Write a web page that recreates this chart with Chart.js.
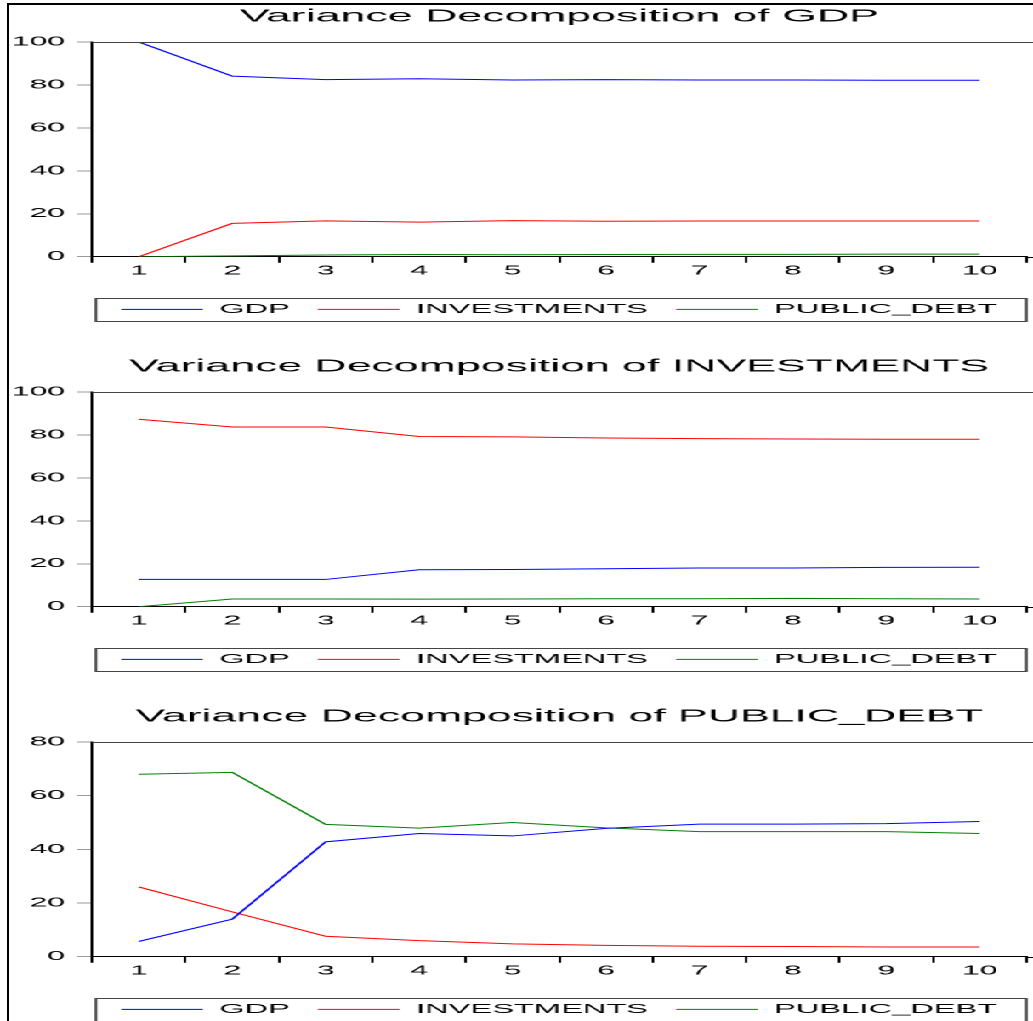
<!DOCTYPE html>
<html>
<head>
<meta charset="utf-8">
<script src="https://cdn.jsdelivr.net/npm/chart.js@4.4.0/dist/chart.umd.min.js"></script>
<style>
  html, body { margin: 0; padding: 0; background: #fff; overflow: hidden; }
  #frame { position: absolute; left: 7px; top: 3px; width: 1100px; height: 1100px;
           border-left: 2px solid #000; border-top: 2px solid #000; }
  /* the original EViews graph is a horizontally stretched bitmap */
  #stretch { position: absolute; left: 0; top: 0; width: 405px; height: 1021px;
             transform: scaleX(2.5506); transform-origin: 0 0; overflow: hidden; }
  #stretch canvas { position: absolute; left: 0; }
</style>
</head>
<body>
<div id="frame"></div>
<div id="stretch">
  <canvas id="c1" width="405" height="350" style="top:0px;width:405px;height:350px"></canvas>
  <canvas id="c2" width="405" height="350" style="top:350px;width:405px;height:350px"></canvas>
  <canvas id="c3" width="405" height="350" style="top:700px;width:405px;height:350px"></canvas>
</div>
<script>
const periods = ['1', '2', '3', '4', '5', '6', '7', '8', '9', '10'];
const seriesNames = ['GDP', 'INVESTMENTS', 'PUBLIC_DEBT'];

// Variance Decomposition of GDP
const gdpByGdp  = [100, 84.1, 82.5, 82.9, 82.3, 82.5, 82.3, 82.3, 82.2, 82.2];
const gdpByInv  = [0, 15.5, 16.7, 16.1, 16.8, 16.5, 16.6, 16.6, 16.6, 16.6];
const gdpByDebt = [0, 0.4, 0.8, 1.0, 0.9, 1.0, 1.1, 1.1, 1.2, 1.2];

// Variance Decomposition of INVESTMENTS
const invByGdp  = [12.7, 12.7, 12.7, 17.2, 17.3, 17.7, 18.0, 18.0, 18.3, 18.4];
const invByInv  = [87.3, 83.7, 83.7, 79.3, 79.1, 78.6, 78.3, 78.1, 78.0, 78.0];
const invByDebt = [0, 3.6, 3.6, 3.5, 3.6, 3.7, 3.7, 3.9, 3.7, 3.6];

// Variance Decomposition of PUBLIC_DEBT
const debtByGdp  = [5.7, 14.0, 42.8, 45.9, 45.0, 47.8, 49.4, 49.4, 49.6, 50.4];
const debtByInv  = [26.0, 16.7, 7.6, 6.0, 4.8, 4.2, 3.9, 3.8, 3.6, 3.6];
const debtByDebt = [68.0, 68.7, 49.3, 47.9, 50.0, 48.0, 46.6, 46.6, 46.6, 45.9];

const FONT = "'Liberation Sans', Arial, sans-serif";
const seriesColors = ['#0000ff', '#ff0000', '#008000'];
Chart.defaults.color = '#000';

// top border, x-axis running on to the edge, and the box round the legend
const framePlugin = {
  id: 'eviewsFrame',
  afterDraw(chart) {
    const { ctx, chartArea: a, width } = chart;
    ctx.save();
    ctx.lineWidth = 1;
    ctx.strokeStyle = '#444';
    ctx.beginPath();
    ctx.moveTo(a.left, Math.round(a.top) + 0.5);
    ctx.lineTo(width, Math.round(a.top) + 0.5);
    ctx.stroke();
    ctx.strokeStyle = '#000';
    ctx.beginPath();
    ctx.moveTo(a.right, Math.round(a.bottom) + 0.5);
    ctx.lineTo(width, Math.round(a.bottom) + 0.5);
    ctx.stroke();
    const hb = chart.legend.legendHitBoxes;
    if (hb && hb.length) {
      const cy = hb[0].top + hb[0].height / 2;
      ctx.strokeStyle = '#444';
      ctx.strokeRect(a.left + 1.5, Math.round(cy - 11.5) + 0.5, a.right - a.left - 1.5, 23);
    }
    ctx.restore();
  }
};

function legendLabels(chart) {
  return chart.data.datasets.map((ds, i) => ({
    text: ds.label,
    datasetIndex: i,
    fillStyle: seriesColors[i],
    strokeStyle: seriesColors[i],
    fontColor: '#000',
    lineWidth: 0,
    hidden: false
  }));
}

function makeChart(id, title, values, yMax) {
  new Chart(document.getElementById(id), {
    type: 'line',
    data: {
      labels: periods,
      datasets: values.map((v, i) => ({
        label: seriesNames[i], data: v,
        borderColor: seriesColors[i], backgroundColor: seriesColors[i]
      }))
    },
    options: {
      responsive: false,
      animation: false,
      devicePixelRatio: 2,
      elements: {
        line: { borderWidth: 1, tension: 0, fill: false },
        point: { radius: 0, hoverRadius: 0 }
      },
      layout: { padding: { left: 0, right: 2.6, top: 0, bottom: 24.25 } },
      plugins: {
        title: {
          display: true, text: title, fullSize: false, color: '#000',
          font: { family: FONT, size: 17.5, weight: 'normal' },
          padding: { top: 6, bottom: 15 }
        },
        legend: {
          position: 'bottom', fullSize: false,
          labels: {
            boxWidth: 32, boxHeight: 1,
            padding: 11, font: { family: FONT, size: 12.8 },
            generateLabels: legendLabels
          }
        },
        tooltip: { enabled: false }
      },
      scales: {
        x: {
          offset: true,
          grid: { offset: true, drawOnChartArea: false, tickLength: 6, color: '#000' },
          border: { color: '#000' },
          ticks: { color: '#000', padding: 1, maxRotation: 0, font: { family: FONT, size: 12.5 } },
          afterFit(s) { s.height = 35.25; }
        },
        y: {
          min: 0, max: yMax,
          ticks: { stepSize: 20, color: '#000', padding: 4.6, font: { family: FONT, size: 12.5 } },
          grid: { drawOnChartArea: false, tickLength: 6, color: '#999' },
          border: { color: '#000', width: 1 },
          afterFit(s) { s.width = 36.1; }
        }
      }
    },
    plugins: [framePlugin]
  });
}

makeChart('c1', 'Variance Decomposition of GDP', [gdpByGdp, gdpByInv, gdpByDebt], 100);
makeChart('c2', 'Variance Decomposition of INVESTMENTS', [invByGdp, invByInv, invByDebt], 100);
makeChart('c3', 'Variance Decomposition of PUBLIC_DEBT', [debtByGdp, debtByInv, debtByDebt], 80);
</script>
</body>
</html>
